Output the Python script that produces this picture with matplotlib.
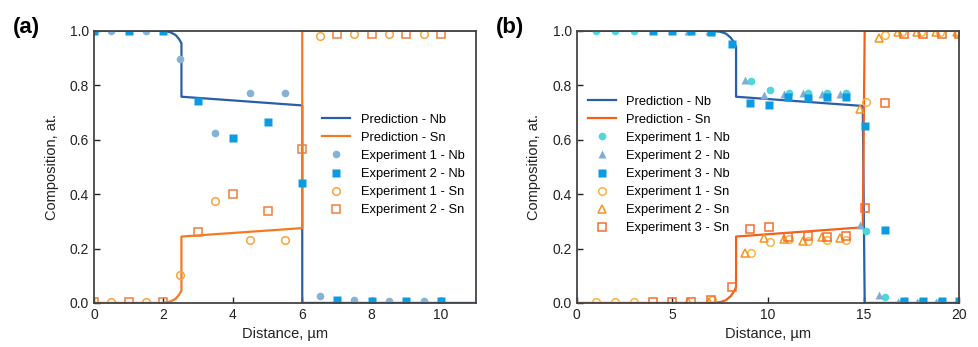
import numpy as np
import matplotlib.pyplot as plt

plt.rcParams['font.family'] = ['Liberation Sans', 'DejaVu Sans']

# ---------------- panel (a) data ----------------
a_pred_x = [0, 2.0, 2.2, 2.35, 2.45, 2.52, 2.52, 6.0, 6.0, 11]
a_pred_nb = [1.0, 1.0, 0.995, 0.985, 0.97, 0.955, 0.758, 0.726, 0.0, 0.0]
a_pred_sn = [0.0, 0.0, 0.005, 0.015, 0.03, 0.045, 0.244, 0.275, 1.0, 1.0]

a_exp1_x = [0.5, 1.5, 2.47, 3.5, 4.5, 5.5, 6.5, 7.5, 8.5, 9.5]
a_exp1_nb = [1.0, 1.0, 0.895, 0.626, 0.772, 0.772, 0.026, 0.01, 0.008, 0.008]
a_exp1_sn = [0.005, 0.005, 0.104, 0.376, 0.232, 0.232, 0.98, 0.99, 0.99, 0.99]

a_exp2_x = [0, 1, 2, 3, 4, 5, 6, 7, 8, 9, 10]
a_exp2_nb = [1.0, 1.0, 1.0, 0.743, 0.605, 0.664, 0.44, 0.01, 0.008, 0.008, 0.008]
a_exp2_sn = [0.005, 0.005, 0.005, 0.261, 0.40, 0.338, 0.565, 0.99, 0.99, 0.99, 0.99]

# ---------------- panel (b) data ----------------
b_pred_x = [0, 7.0, 7.5, 7.8, 8.05, 8.25, 8.33, 8.33, 14.95, 15.05, 20]
b_pred_nb = [1.0, 1.0, 0.997, 0.99, 0.975, 0.955, 0.94, 0.758, 0.724, 0.0, 0.0]
b_pred_sn = [0.0, 0.0, 0.003, 0.01, 0.025, 0.045, 0.06, 0.244, 0.278, 1.0, 1.0]

b_exp1_x = [1, 2, 3, 7.05, 9.1, 10.1, 11.1, 12.1, 13.1, 14.08, 15.1, 16.1, 17, 18, 19, 20]
b_exp1_nb = [1.0, 1.0, 1.0, 0.995, 0.816, 0.783, 0.771, 0.77, 0.771, 0.771, 0.266, 0.02, 0.005, 0.005, 0.005, 0.005]
b_exp1_sn = [0.005, 0.005, 0.005, 0.01, 0.185, 0.223, 0.235, 0.226, 0.23, 0.23, 0.74, 0.985, 0.995, 0.995, 0.995, 0.995]

b_exp2_x = [5.8, 6.9, 8.8, 9.8, 10.85, 11.85, 12.8, 13.77, 14.8, 15.8, 16.8, 17.8, 18.8, 19.85]
b_exp2_nb = [1.0, 1.0, 0.82, 0.765, 0.767, 0.771, 0.767, 0.767, 0.287, 0.03, 0.005, 0.005, 0.005, 0.005]
b_exp2_sn = [0.005, 0.005, 0.185, 0.238, 0.235, 0.229, 0.244, 0.238, 0.712, 0.973, 0.995, 0.995, 0.995, 0.995]

b_exp3_x = [4, 5, 6, 7, 8.1, 9.06, 10.07, 11.06, 12.1, 13.1, 14.08, 15.08, 16.09, 17.1, 18.1, 19.1, 20]
b_exp3_nb = [1.0, 1.0, 1.0, 0.995, 0.953, 0.734, 0.728, 0.756, 0.755, 0.758, 0.758, 0.65, 0.268, 0.008, 0.008, 0.008, 0.008]
b_exp3_sn = [0.005, 0.005, 0.005, 0.01, 0.06, 0.272, 0.28, 0.244, 0.246, 0.244, 0.246, 0.35, 0.736, 0.99, 0.99, 0.99, 0.99]

NB_LINE = '#2a5ea8'

fig = plt.figure(figsize=(9.79, 3.47), dpi=100)
ax1 = fig.add_axes([0.096, 0.127, 0.390, 0.784])
ax2 = fig.add_axes([0.589, 0.127, 0.391, 0.784])

ms = 5.5
ax1.plot(a_pred_x, a_pred_nb, color=NB_LINE, lw=1.6, label='Prediction - Nb')
ax1.plot(a_pred_x, a_pred_sn, color='#f47a22', lw=1.6, label='Prediction - Sn')
ax1.plot(a_exp1_x, a_exp1_nb, 'o', color='#84b3d7', ms=ms, mec='none', label='Experiment 1 - Nb')
ax1.plot(a_exp2_x, a_exp2_nb, 's', color='#0b9be3', ms=ms, mec='none', label='Experiment 2 - Nb')
ax1.plot(a_exp1_x, a_exp1_sn, 'o', mfc='none', mec='#f9a43c', mew=1.1, ms=ms, label='Experiment 1 - Sn')
ax1.plot(a_exp2_x, a_exp2_sn, 's', mfc='none', mec='#f47c3c', mew=1.1, ms=ms, label='Experiment 2 - Sn')
ax1.set_xlim(0, 11)
ax1.set_xticks([0, 2, 4, 6, 8, 10])

ax2.plot(b_pred_x, b_pred_nb, color=NB_LINE, lw=1.6, label='Prediction - Nb')
ax2.plot(b_pred_x, b_pred_sn, color='#f2601c', lw=1.6, label='Prediction - Sn')
ax2.plot(b_exp1_x, b_exp1_nb, 'o', color='#4fd6d8', ms=ms, mec='none', label='Experiment 1 - Nb')
ax2.plot(b_exp2_x, b_exp2_nb, '^', color='#7eaed6', ms=ms, mec='none', label='Experiment 2 - Nb')
ax2.plot(b_exp3_x, b_exp3_nb, 's', color='#0b9be3', ms=ms, mec='none', label='Experiment 3 - Nb')
ax2.plot(b_exp1_x, b_exp1_sn, 'o', mfc='none', mec='#fdb23e', mew=1.1, ms=ms, label='Experiment 1 - Sn')
ax2.plot(b_exp2_x, b_exp2_sn, '^', mfc='none', mec='#f7931e', mew=1.1, ms=ms, label='Experiment 2 - Sn')
ax2.plot(b_exp3_x, b_exp3_sn, 's', mfc='none', mec='#f2702c', mew=1.1, ms=ms, label='Experiment 3 - Sn')
ax2.set_xlim(0, 20)
ax2.set_xticks([0, 5, 10, 15, 20])

for ax in (ax1, ax2):
    ax.set_ylim(0, 1)
    ax.set_yticks([0, 0.2, 0.4, 0.6, 0.8, 1.0])
    ax.set_yticklabels(['0.0', '0.2', '0.4', '0.6', '0.8', '1.0'])
    ax.tick_params(direction='in', length=4, width=1, labelsize=10, colors='#222222')
    for sp in ax.spines.values():
        sp.set_color('#444444')
        sp.set_linewidth(1.3)
    ax.set_xlabel('Distance, µm', fontsize=10.5, color='#222222')
    ax.set_ylabel('Composition, at.', fontsize=10.5, color='#222222', labelpad=8)

leg_kw = dict(frameon=False, fontsize=9.3, handlelength=2.2, handletextpad=0.8,
              labelspacing=0.47, borderpad=0, borderaxespad=0)
ax1.legend(loc='center left', bbox_to_anchor=(0.597, 0.507), **leg_kw)
ax2.legend(loc='center left', bbox_to_anchor=(0.029, 0.507), **leg_kw)

fig.text(0.013, 0.905, '(a)', fontsize=16, fontweight='bold')
fig.text(0.507, 0.905, '(b)', fontsize=16, fontweight='bold')

fig.savefig('out.png', dpi=100)
